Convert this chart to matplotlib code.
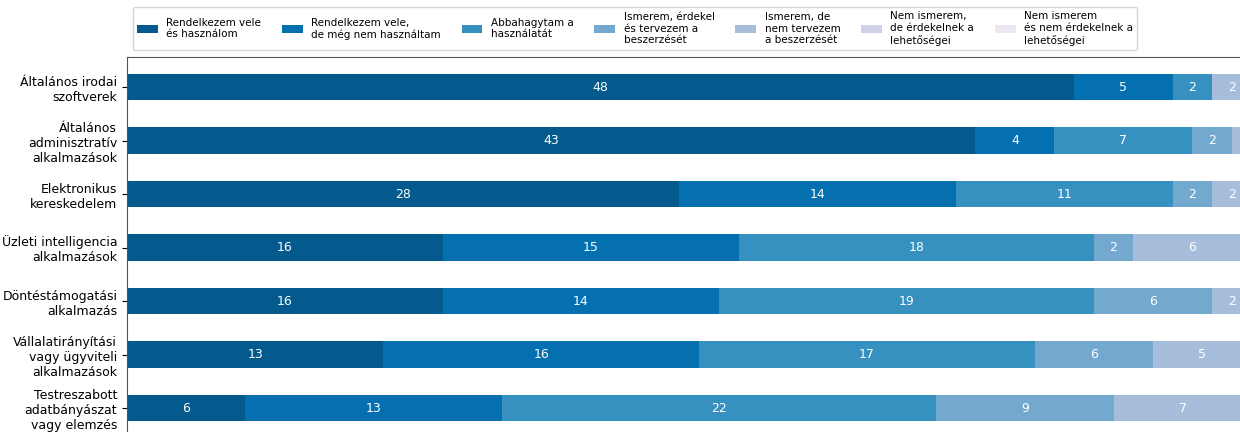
import matplotlib
matplotlib.use("Agg")
import matplotlib.pyplot as plt
import numpy as np

categories = [
    "Általános irodai\nszoftverek",
    "Általános\nadminisztratív\nalkalmazások",
    "Elektronikus\nkereskedelem",
    "Üzleti intelligencia\nalkalmazások",
    "Döntéstámogatási\nalkalmazás",
    "Vállalatirányítási\nvagy ügyviteli\nalkalmazások",
    "Testreszabott\nadatbányászat\nvagy elemzés",
]

series_labels = [
    "Rendelkezem vele\nés használom",
    "Rendelkezem vele,\nde még nem használtam",
    "Abbahagytam a\nhasználatát",
    "Ismerem, érdekel\nés tervezem a\nbeszerzését",
    "Ismerem, de\nnem tervezem\na beszerzését",
    "Nem ismerem,\nde érdekelnek a\nlehetőségei",
    "Nem ismerem\nés nem érdekelnek a\nlehetőségei",
]

# values per series (one entry per category, top to bottom)
s1 = [48, 43, 28, 16, 16, 13, 6]
s2 = [5, 4, 14, 15, 14, 16, 13]
s3 = [2, 7, 11, 18, 19, 17, 22]
s4 = [0, 2, 2, 2, 6, 6, 9]
s5 = [2, 3, 2, 6, 2, 5, 7]
s6 = [2, 2, 2, 2, 2, 2, 2]
s7 = [2, 2, 2, 2, 2, 2, 2]
series = [s1, s2, s3, s4, s5, s6, s7]

colors = ["#045a8d", "#0570b0", "#3690c0", "#74a9cf", "#a6bddb", "#d0d1e6", "#ece7f2"]

W, H = 1240, 432
fig = plt.figure(figsize=(W / 100, H / 100), dpi=100)

px_x = 19.73   # pixels per value unit
px_y = 53.5    # pixels per row
left_px, top_px = 127, 57
xmax = 100
ytop, ybot = -0.561, 7.0
ax_w = xmax * px_x
ax_h = (ybot - ytop) * px_y
ax = fig.add_axes([left_px / W, (H - top_px - ax_h) / H, ax_w / W, ax_h / H])

y = np.arange(len(categories))
left = np.zeros(len(categories))
handles = []
for vals, col, lab in zip(series, colors, series_labels):
    vals = np.array(vals, dtype=float)
    bars = ax.barh(y, vals, left=left, height=0.5, color=col, label=lab)
    handles.append(bars)
    for yi, (l, v) in enumerate(zip(left, vals)):
        if v > 0:
            ax.text(l + v / 2, yi, f"{int(v)}", ha="center", va="center",
                    color="white", fontsize=9)
    left += vals

ax.set_xlim(0, xmax)
ax.set_ylim(ybot, ytop)
ax.set_yticks(y)
ax.set_yticklabels(categories, fontsize=9)
ax.tick_params(axis="x", bottom=False, labelbottom=False)
for s in ax.spines.values():
    s.set_color("#555555")

fig.legend(handles=handles, labels=series_labels, loc="lower left",
           bbox_to_anchor=(133 / W, (H - 50) / H), ncol=7, fontsize=7.5,
           borderaxespad=0, frameon=True)

fig.savefig("out.png", dpi=100)
